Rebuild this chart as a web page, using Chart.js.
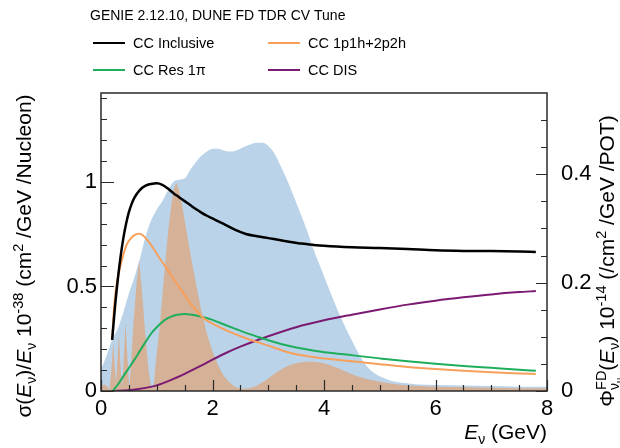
<!DOCTYPE html>
<html>
<head>
<meta charset="utf-8">
<script src="https://cdn.jsdelivr.net/npm/chart.js@4.4.1/dist/chart.umd.min.js"></script>
<style>
  html, body { margin: 0; padding: 0; background: #fff; }
  canvas { display: block; }
</style>
</head>
<body>
<canvas id="xsec" width="620" height="448"></canvas>
<script>
// Secções de choque (10^-38 cm^2 / GeV / nucleão), eixo da esquerda
const inclE  = [0.2, 0.25, 0.3, 0.35, 0.4, 0.45, 0.5, 0.55, 0.6, 0.7, 0.8, 0.9, 1.0, 1.1, 1.2, 1.3, 1.4, 1.5, 1.6, 1.7, 1.8, 1.9, 2.0, 2.2, 2.4, 2.6, 2.8, 3.0, 3.2, 3.4, 3.6, 3.8, 4.0, 4.5, 5.0, 5.5, 6.0, 6.5, 7.0, 7.5, 7.8];
const inclXS = [0.244, 0.40, 0.53, 0.64, 0.73, 0.80, 0.855, 0.895, 0.925, 0.962, 0.982, 0.99, 0.993, 0.986, 0.968, 0.946, 0.927, 0.908, 0.889, 0.87, 0.853, 0.838, 0.825, 0.799, 0.772, 0.751, 0.74, 0.731, 0.722, 0.713, 0.705, 0.699, 0.694, 0.687, 0.684, 0.679, 0.673, 0.67, 0.669, 0.667, 0.665];

const qelE  = [0.2, 0.23, 0.26, 0.3, 0.35, 0.4, 0.46, 0.52, 0.6, 0.67, 0.75, 0.85, 0.95, 1.05, 1.15, 1.25, 1.4, 1.5, 1.6, 1.75, 1.85, 2.0, 2.3, 2.6, 2.85, 3.0, 3.4, 3.8, 4.1, 4.4, 5.0, 5.5, 6.0, 6.5, 7.0, 7.5, 7.8];
const qelXS = [0.244, 0.38, 0.47, 0.54, 0.6, 0.65, 0.7, 0.725, 0.745, 0.752, 0.745, 0.715, 0.678, 0.635, 0.597, 0.556, 0.497, 0.458, 0.42, 0.372, 0.346, 0.322, 0.284, 0.252, 0.23, 0.217, 0.182, 0.163, 0.153, 0.145, 0.128, 0.115, 0.105, 0.097, 0.09, 0.084, 0.081];

const resE  = [0.21, 0.3, 0.4, 0.5, 0.6, 0.7, 0.8, 0.9, 1.0, 1.1, 1.2, 1.3, 1.4, 1.5, 1.6, 1.8, 2.0, 2.2, 2.4, 2.6, 2.8, 3.0, 3.4, 3.8, 4.1, 4.4, 5.0, 5.5, 6.0, 6.5, 7.0, 7.5, 7.8];
const resXS = [0, 0.03, 0.07, 0.11, 0.15, 0.193, 0.235, 0.275, 0.305, 0.33, 0.348, 0.36, 0.366, 0.368, 0.366, 0.355, 0.34, 0.319, 0.298, 0.278, 0.26, 0.243, 0.214, 0.194, 0.183, 0.174, 0.156, 0.142, 0.13, 0.12, 0.111, 0.102, 0.097];

const disE  = [0.21, 0.5, 0.8, 1.0, 1.25, 1.5, 1.75, 2.0, 2.25, 2.5, 2.75, 3.0, 3.5, 4.0, 4.5, 5.0, 5.5, 6.0, 6.5, 7.0, 7.5, 7.8];
const disXS = [0, 0.004, 0.015, 0.027, 0.052, 0.082, 0.115, 0.15, 0.183, 0.212, 0.238, 0.262, 0.305, 0.338, 0.365, 0.39, 0.413, 0.432, 0.448, 0.462, 0.473, 0.478];

// Fluxo FD (10^-14 /cm^2 /GeV /POT), eixo da direita
const fluxE   = [0.0, 0.1, 0.2, 0.3, 0.4, 0.5, 0.6, 0.7, 0.8, 0.9, 1.0, 1.1, 1.2, 1.3, 1.4, 1.5, 1.6, 1.7, 1.8, 1.9, 2.0, 2.1, 2.2, 2.3, 2.4, 2.5, 2.6, 2.7, 2.8, 2.9, 3.0, 3.1, 3.2, 3.3, 3.4, 3.5, 3.6, 3.7, 3.8, 3.9, 4.0, 4.1, 4.2, 4.3, 4.4, 4.5, 4.6, 4.7, 4.8, 4.9, 5.0, 5.2, 5.4, 5.7, 6.0, 6.5, 7.0, 7.5, 8.0];
const fluxNom = [0.04, 0.065, 0.095, 0.115, 0.145, 0.18, 0.21, 0.245, 0.285, 0.315, 0.335, 0.35, 0.37, 0.386, 0.39, 0.392, 0.408, 0.422, 0.434, 0.442, 0.447, 0.447, 0.444, 0.442, 0.443, 0.447, 0.452, 0.456, 0.458, 0.458, 0.452, 0.44, 0.42, 0.398, 0.374, 0.348, 0.322, 0.295, 0.265, 0.238, 0.212, 0.186, 0.16, 0.136, 0.114, 0.093, 0.073, 0.055, 0.042, 0.033, 0.027, 0.019, 0.015, 0.012, 0.011, 0.01, 0.009, 0.008, 0.008];

const oscE    = [0.0, 0.02, 0.05, 0.1, 0.15, 0.18, 0.22, 0.25, 0.27, 0.32, 0.36, 0.38, 0.44, 0.48, 0.51, 0.58, 0.63, 0.68, 0.73, 0.79, 0.85, 0.9, 0.94, 1.0, 1.05, 1.1, 1.15, 1.2, 1.25, 1.3, 1.35, 1.4, 1.45, 1.5, 1.6, 1.7, 1.8, 1.9, 2.0, 2.1, 2.2, 2.3, 2.4, 2.5, 2.6, 2.7, 2.8, 2.9, 3.0, 3.1, 3.2, 3.3, 3.4, 3.5, 3.6, 3.7, 3.8, 3.9, 4.0, 4.1, 4.2, 4.3, 4.4, 4.5, 4.6, 4.7, 4.8, 5.0, 5.25, 5.5, 6.0, 6.5, 7.0, 7.5, 8.0];
const fluxOsc = [0.0, 0.008, 0.012, 0.01, 0.002, 0.03, 0.09, 0.04, 0.015, 0.105, 0.03, 0.006, 0.125, 0.05, 0.005, 0.12, 0.19, 0.24, 0.19, 0.11, 0.04, 0.006, 0.006, 0.07, 0.115, 0.175, 0.235, 0.29, 0.335, 0.37, 0.385, 0.37, 0.345, 0.315, 0.255, 0.2, 0.148, 0.105, 0.073, 0.048, 0.028, 0.016, 0.008, 0.004, 0.004, 0.006, 0.01, 0.016, 0.023, 0.031, 0.038, 0.044, 0.048, 0.051, 0.053, 0.054, 0.054, 0.053, 0.051, 0.048, 0.044, 0.04, 0.035, 0.031, 0.027, 0.024, 0.021, 0.017, 0.013, 0.01, 0.008, 0.007, 0.006, 0.005, 0.005];

const seriesLabels = ['CC Inclusive', 'CC 1p1h+2p2h', 'CC Res 1π', 'CC DIS'];
const headerText = 'GENIE 2.12.10, DUNE FD TDR CV Tune';
const xTicks  = [0, 2, 4, 6, 8];
const yTicks  = [0, 0.5, 1];
const y2Ticks = [0, 0.2, 0.4];

const FONT = "'Liberation Sans', Arial, Helvetica, sans-serif";

const pts = (xs, ys) => xs.map((x, i) => ({ x: x, y: ys[i] }));

const lineDs = (label, xs, ys, color, width) => ({
    label: label,
    data: pts(xs, ys),
    borderColor: color,
    borderWidth: width,
    pointRadius: 0,
    fill: false,
    cubicInterpolationMode: 'monotone',
    yAxisID: 'y'
});

// Legenda em duas colunas + cabeçalho
const legendPlugin = {
    id: 'rootLegend',
    afterDraw(chart) {
        const ctx = chart.ctx;
        ctx.save();
        ctx.fillStyle = '#000';
        ctx.textBaseline = 'middle';
        ctx.font = '14px ' + FONT;
        ctx.fillText(headerText, 90, 16);

        const cols = [93, 268];
        const rows = [43, 70];
        ctx.font = '14.5px ' + FONT;
        for (let i = 0; i < 4; i++) {
            const ds = chart.data.datasets[i];
            const x = cols[i % 2], y = rows[Math.floor(i / 2)];
            ctx.strokeStyle = ds.borderColor;
            ctx.lineWidth = 2;
            ctx.beginPath();
            ctx.moveTo(x, y);
            ctx.lineTo(x + 32, y);
            ctx.stroke();
            ctx.fillText(ds.label, x + 40, y + 1);
        }
        ctx.restore();
    }
};

// Moldura e marcas para dentro, estilo ROOT
const framePlugin = {
    id: 'rootFrame',
    afterDraw(chart) {
        const { ctx, chartArea: a, scales } = chart;
        ctx.save();
        ctx.strokeStyle = '#2a2a2a';
        ctx.lineWidth = 1.2;
        ctx.beginPath();
        // eixo x
        for (let v = 0; v <= 8.001; v += 0.5) {
            const px = Math.round(scales.x.getPixelForValue(v)) + 0.5;
            const len = (Math.abs(v % 2) < 1e-6) ? 11 : 6;
            ctx.moveTo(px, a.bottom);
            ctx.lineTo(px, a.bottom - len);
        }
        // eixo esquerdo
        for (let v = 0; v <= 1.42; v += 0.1) {
            const py = Math.round(scales.y.getPixelForValue(v)) + 0.5;
            const len = (Math.abs(Math.round(v * 10) % 5) === 0) ? 13 : 6;
            ctx.moveTo(a.left, py);
            ctx.lineTo(a.left + len, py);
        }
        // eixo direito
        for (let k = 0; k <= 10; k++) {
            const v = k * 0.05;
            const py = Math.round(scales.y2.getPixelForValue(v)) + 0.5;
            const len = (k % 4 === 0) ? 11 : 6;
            ctx.moveTo(a.right, py);
            ctx.lineTo(a.right - len, py);
        }
        ctx.stroke();
        ctx.lineWidth = 1.5;
        ctx.strokeRect(a.left, a.top, a.right - a.left, a.bottom - a.top);
        ctx.restore();
    }
};

// Títulos dos eixos com índices e expoentes
const N   = t => ({ t: t, font: '21px ' + FONT, dy: 0 });
const I   = t => ({ t: t, font: 'italic 21px ' + FONT, dy: 0 });
const SUB = (t, s, d) => ({ t: t, font: (s || 14) + 'px ' + FONT, dy: d || 5 });
const SUP = t => ({ t: t, font: '14.5px ' + FONT, dy: -8 });

function partsWidth(ctx, parts) {
    let w = 0;
    parts.forEach(p => {
        if (p.stack) {
            w += Math.max(...p.stack.map(q => partsWidth(ctx, q)));
        } else {
            ctx.font = p.font;
            w += ctx.measureText(p.t).width;
        }
    });
    return w;
}

function drawParts(ctx, parts, x, y) {
    let cx = x;
    parts.forEach(p => {
        if (p.stack) {
            const ws = p.stack.map(q => partsWidth(ctx, q));
            p.stack.forEach(q => drawParts(ctx, q, cx, y));
            cx += Math.max(...ws);
        } else {
            ctx.font = p.font;
            ctx.fillText(p.t, cx, y + p.dy);
            cx += ctx.measureText(p.t).width;
        }
    });
}

const leftTitle = [N('σ('), I('E'), SUB('ν'), N(')/'), I('E'), SUB('ν'), N(' 10'), SUP('-38'), N(' (cm'), SUP('2'), N(' /GeV /Nucleon)')];
const rightTitle = [N('Φ'), { stack: [[SUP('FD')], [SUB('ν'), SUB('μ', 9, 8)]] }, N('('), I('E'), SUB('ν'), N(') 10'), SUP('-14'), N(' (/cm'), SUP('2'), N(' /GeV /POT)')];
const bottomTitle = [I('E'), SUB('ν'), N(' (GeV)')];

const titlePlugin = {
    id: 'axisTitles',
    afterDraw(chart) {
        const ctx = chart.ctx;
        ctx.save();
        ctx.fillStyle = '#000';
        ctx.textBaseline = 'alphabetic';

        let w = partsWidth(ctx, bottomTitle);
        drawParts(ctx, bottomTitle, chart.chartArea.right - w, 439);

        ctx.save();
        ctx.translate(31, 0);
        ctx.rotate(-Math.PI / 2);
        w = partsWidth(ctx, leftTitle);
        drawParts(ctx, leftTitle, -256 - w / 2, 0);
        ctx.restore();

        ctx.save();
        ctx.translate(614, 0);
        ctx.rotate(-Math.PI / 2);
        w = partsWidth(ctx, rightTitle);
        drawParts(ctx, rightTitle, -261 - w / 2, 0);
        ctx.restore();

        ctx.restore();
    }
};

const tickFont = { family: FONT, size: 22 };
const plainNum = v => String(Math.round(v * 100) / 100);

new Chart(document.getElementById('xsec').getContext('2d'), {
    type: 'line',
    data: {
        datasets: [
            lineDs(seriesLabels[0], inclE, inclXS, '#000000', 2.5),
            lineDs(seriesLabels[1], qelE, qelXS, '#f7a05c', 2),
            lineDs(seriesLabels[2], resE, resXS, '#1fae5c', 2),
            lineDs(seriesLabels[3], disE, disXS, '#7b1a72', 2),
            {
                label: 'oscillated',
                data: pts(oscE, fluxOsc),
                borderWidth: 0,
                pointRadius: 0,
                backgroundColor: '#d5b197',
                fill: 'origin',
                tension: 0,
                yAxisID: 'y2'
            },
            {
                label: 'nominal',
                data: pts(fluxE, fluxNom),
                borderWidth: 0,
                pointRadius: 0,
                backgroundColor: '#bad3e8',
                fill: 'origin',
                cubicInterpolationMode: 'monotone',
                yAxisID: 'y2'
            }
        ]
    },
    options: {
        responsive: false,
        animation: false,
        devicePixelRatio: 1,
        layout: { padding: { top: 93, left: 0, right: 0, bottom: 0 } },
        plugins: {
            legend: { display: false },
            tooltip: { enabled: false }
        },
        scales: {
            x: {
                type: 'linear',
                min: 0, max: 8,
                grid: { display: false, drawTicks: false },
                border: { display: false },
                afterBuildTicks: s => { s.ticks = xTicks.map(v => ({ value: v })); },
                ticks: { font: tickFont, color: '#000', padding: 5, maxRotation: 0, autoSkip: false, callback: plainNum },
                afterFit: s => { s.height = 57; }
            },
            y: {
                position: 'left',
                min: 0, max: 1.425,
                grid: { display: false, drawTicks: false },
                border: { display: false },
                afterBuildTicks: s => { s.ticks = yTicks.map(v => ({ value: v })); },
                ticks: { font: tickFont, color: '#000', padding: 4, autoSkip: false, callback: plainNum },
                afterFit: s => { s.width = 101; }
            },
            y2: {
                position: 'right',
                min: 0, max: 0.55,
                grid: { display: false, drawTicks: false },
                border: { display: false },
                afterBuildTicks: s => { s.ticks = y2Ticks.map(v => ({ value: v })); },
                ticks: { font: tickFont, color: '#000', padding: 14, autoSkip: false, callback: plainNum },
                afterFit: s => { s.width = 73; }
            }
        }
    },
    plugins: [framePlugin, legendPlugin, titlePlugin]
});
</script>
</body>
</html>
